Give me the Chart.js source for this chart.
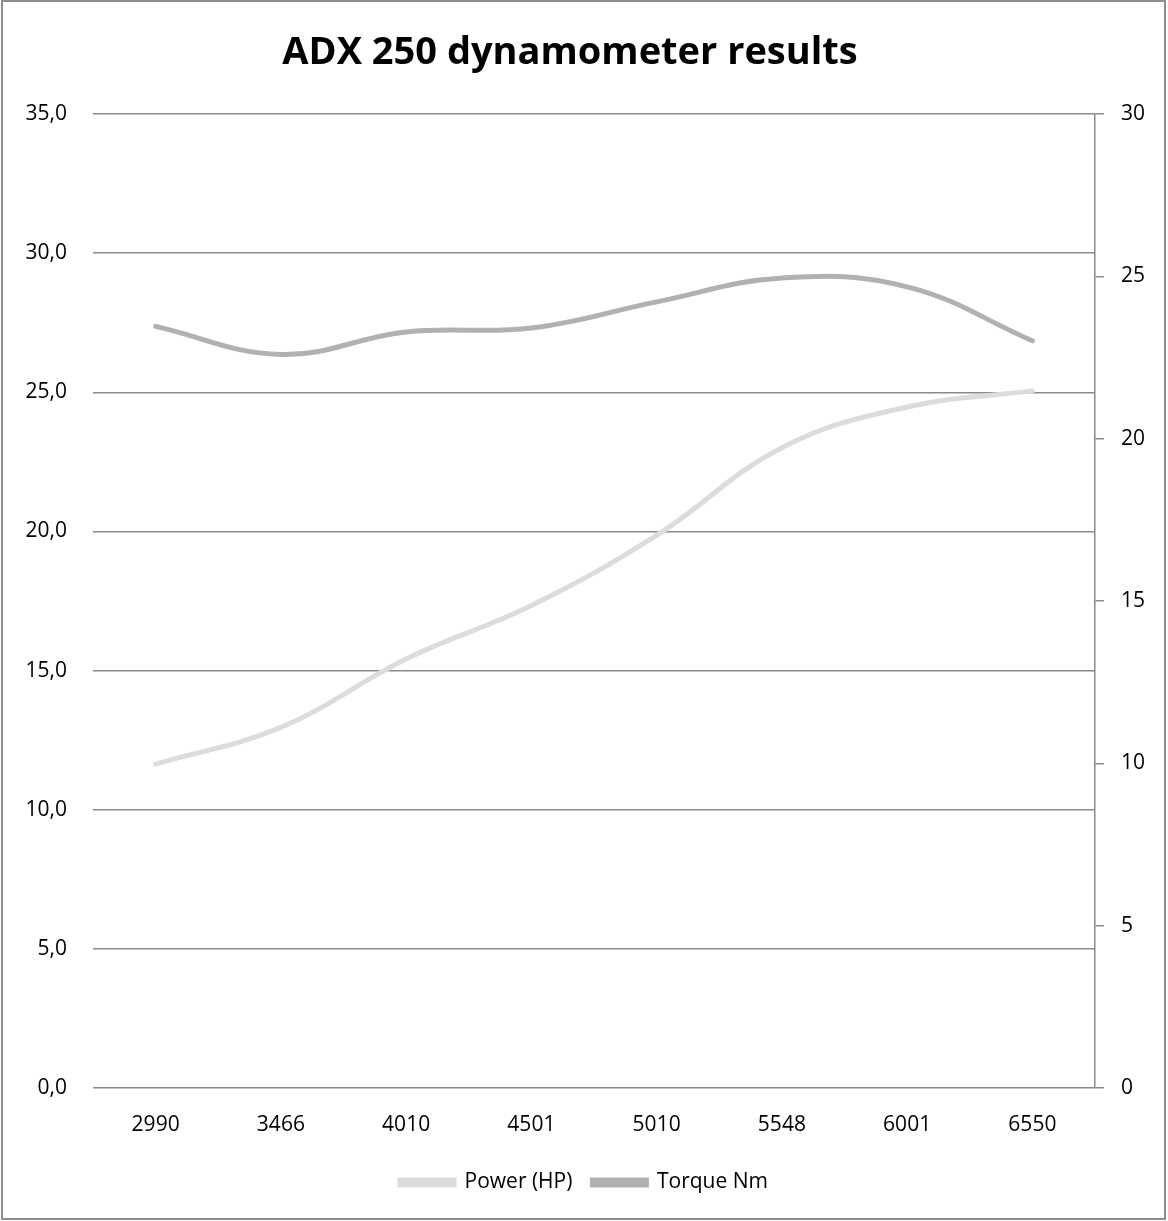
<!DOCTYPE html>
<html>
<head>
<meta charset="utf-8">
<style>
  html, body { margin: 0; padding: 0; background: #fff; }
  #wrap { width: 1168px; height: 1221px; position: relative; }
</style>
<script src="https://cdn.jsdelivr.net/npm/chart.js@4.4.1/dist/chart.umd.min.js"></script>
</head>
<body>
<div id="wrap"><canvas id="c" width="1168" height="1221"></canvas></div>
<script>
const titleText = 'ADX 250 dynamometer results';
const rpmLabels = ['2990', '3466', '4010', '4501', '5010', '5548', '6001', '6550'];
const powerHP = [11.64, 12.96, 15.42, 17.34, 19.86, 23.01, 24.47, 25.05];
const torqueNm = [27.37, 26.36, 27.17, 27.31, 28.25, 29.11, 28.79, 26.85];
const leftTicks = [0, 5, 10, 15, 20, 25, 30, 35];
const rightTicks = [0, 5, 10, 15, 20, 25, 30];

const FONT = "'Open Sans', 'Noto Sans', sans-serif";
const AXIS = '#8a8a8a';

const framePlugin = {
  id: 'frame',
  afterDraw(chart) {
    const ctx = chart.ctx;
    ctx.save();
    ctx.strokeStyle = '#8e8e8e';
    ctx.lineWidth = 2;
    ctx.strokeRect(2, 1, 1163, 1218);
    ctx.fillStyle = '#000';
    ctx.font = "bold 38px " + FONT;
    ctx.textAlign = 'center';
    ctx.textBaseline = 'middle';
    ctx.fillText(titleText, 570, 53);
    ctx.restore();
  }
};

new Chart(document.getElementById('c'), {
  type: 'line',
  data: {
    labels: rpmLabels,
    datasets: [
      {
        label: 'Power (HP)',
        data: powerHP,
        borderColor: '#dcdcdc',
        backgroundColor: '#dcdcdc',
        borderWidth: 5,
        pointRadius: 0,
        tension: 0.4,
        borderCapStyle: 'round',
        yAxisID: 'y'
      },
      {
        label: 'Torque Nm',
        data: torqueNm,
        borderColor: '#b1b1b1',
        backgroundColor: '#b1b1b1',
        borderWidth: 5,
        pointRadius: 0,
        tension: 0.4,
        borderCapStyle: 'round',
        yAxisID: 'y'
      }
    ]
  },
  options: {
    responsive: false,
    animation: false,
    devicePixelRatio: 1,
    layout: { padding: { left: 0, right: 0, top: 114, bottom: 18 } },
    plugins: {
      title: { display: false },
      legend: {
        position: 'bottom',
        labels: {
          color: '#000',
          font: { family: FONT, size: 21 },
          boxWidth: 54,
          boxHeight: 5,
          padding: 20
        }
      },
      tooltip: { enabled: false }
    },
    scales: {
      x: {
        offset: true,
        grid: { display: false, drawTicks: false, offset: true },
        border: { display: false },
        ticks: { color: '#000', font: { family: FONT, size: 21 }, padding: 24, maxRotation: 0, autoSkip: false },
        afterFit(s) { s.height = 64; }
      },
      y: {
        position: 'left',
        min: 0, max: 35,
        afterBuildTicks(s) { s.ticks = leftTicks.map(v => ({ value: v })); },
        grid: { color: AXIS, lineWidth: 1.5, drawTicks: false },
        border: { display: false },
        ticks: {
          color: '#000',
          font: { family: FONT, size: 21 },
          padding: 26,
          callback: v => v.toFixed(1).replace('.', ',')
        },
        afterFit(s) { s.width = 93; }
      },
      y1: {
        position: 'right',
        min: 0, max: 30,
        afterBuildTicks(s) { s.ticks = rightTicks.map(v => ({ value: v })); },
        grid: { drawOnChartArea: false, drawTicks: true, tickLength: 9, color: AXIS, lineWidth: 1.5 },
        border: { display: true, color: AXIS, width: 1.5 },
        ticks: { color: '#000', font: { family: FONT, size: 21 }, padding: 17 },
        afterFit(s) { s.width = 73; }
      }
    }
  },
  plugins: [framePlugin]
});
</script>
</body>
</html>
